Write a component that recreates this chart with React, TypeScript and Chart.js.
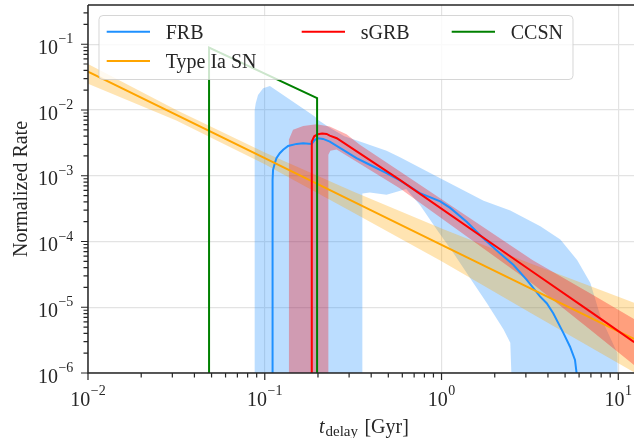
import React, { useEffect, useRef } from 'react';
import { Chart, registerables } from 'chart.js';

Chart.register(...registerables);

// ---------------- data ----------------
const BOTTOM = 1e-7; // "down to the axis" (below the y-axis minimum)
const X_MIN = 0.01;
const X_MAX = 12.27;
const Y_MIN = 1e-6;
const Y_MAX = 0.395;

// FRB median curve
const frbT = [0.1107, 0.1107, 0.1114, 0.114, 0.1164, 0.1216, 0.1271, 0.1355, 0.1514, 0.1648, 0.1841, 0.1919, 0.2004, 0.2138, 0.2333, 0.3304, 0.3926, 0.4887, 0.5812, 0.7551, 0.9829, 1.119, 1.387, 1.722, 2.138, 2.547, 3.027, 3.606, 3.936, 4.285, 4.887, 5.333, 5.689, 5.808, 5.83];
const frbRate = [BOTTOM, 8.7e-4, 1.23e-3, 1.55e-3, 1.85e-3, 2.2e-3, 2.48e-3, 2.84e-3, 3.05e-3, 3.13e-3, 3.05e-3, 3.52e-3, 3.72e-3, 3.63e-3, 3.31e-3, 1.85e-3, 1.47e-3, 1.1e-3, 8.5e-4, 5.45e-4, 4.07e-4, 3.24e-4, 2.0e-4, 1.12e-4, 6.6e-5, 4.43e-5, 2.63e-5, 1.46e-5, 1.15e-5, 8.1e-6, 4.07e-6, 2.51e-6, 1.58e-6, 1.0e-6, BOTTOM];
// FRB band: upper edge (left to right) and lower edge (right to left)
const frbHiT = [0.0877, 0.0877, 0.0889, 0.0916, 0.0979, 0.1069, 0.1919, 0.1995, 0.2333, 0.2818, 0.3451, 0.4887, 0.5821, 0.9829, 1.73, 2.449, 3.622, 4.699, 5.848, 6.95, 7.943, 9.886, 10.05];
const frbHi = [BOTTOM, 0.01, 0.01268, 0.01694, 0.02143, 0.02323, 7.94e-3, 7.08e-3, 5.37e-3, 3.98e-3, 3.31e-3, 2.4e-3, 1.905e-3, 9.12e-4, 4.17e-4, 2.95e-4, 1.7e-4, 1.07e-4, 5.25e-5, 2.34e-5, 7.08e-6, 2.0e-6, BOTTOM];
const frbLoT = [2.559, 2.449, 2.244, 1.807, 1.514, 1.17, 0.9419, 0.7568, 0.631, 0.4887, 0.3926, 0.3565, 0.3565];
const frbLo = [BOTTOM, 2.88e-6, 4.57e-6, 1.15e-5, 2.34e-5, 6.6e-5, 1.51e-4, 3.55e-4, 6.31e-4, 5.13e-4, 5.56e-4, 5.37e-4, BOTTOM];

// Type Ia SN power law and band
const iaT = [0.01, 0.1, 1, 10, 12.3];
const iaRate = [0.0384, 1.85e-3, 8.9e-5, 4.3e-6, 3.3e-6];
const iaBandT = [0.01, 0.0316, 0.1, 0.316, 1, 3.16, 10, 12.3];
const iaHi = [0.0501, 0.01, 2.25e-3, 5.75e-4, 1.58e-4, 4.68e-5, 1.45e-5, 1.17e-5];
const iaLo = [0.0251, 6.92e-3, 1.5e-3, 2.75e-4, 5.0e-5, 8.3e-6, 1.41e-6, 1.02e-6];

// sGRB curve and band
const sgrbT = [0.1845, 0.1845, 0.1905, 0.1995, 0.2113, 0.2239, 0.2333, 0.2553, 0.5808, 3.304, 7.08, 12.3];
const sgrbRate = [BOTTOM, 3.31e-3, 3.98e-3, 4.27e-3, 4.37e-3, 4.32e-3, 4.08e-3, 3.72e-3, 8.67e-4, 3.41e-5, 8.3e-6, 2.95e-6];
const sgrbHiT = [0.137, 0.137, 0.1445, 0.165, 0.196, 0.233, 0.29, 0.345, 0.58, 3.3, 7.08, 12.3];
const sgrbHi = [BOTTOM, 3.55e-3, 4.99e-3, 5.73e-3, 6.08e-3, 5.6e-3, 4.27e-3, 2.95e-3, 1.175e-3, 5.13e-5, 1.58e-5, 6.6e-6];
const sgrbLoT = [12.3, 7.08, 3.3, 0.58, 0.255, 0.235, 0.229, 0.229];
const sgrbLo = [1.32e-6, 4.37e-6, 2.24e-5, 6.46e-4, 2.51e-3, 2.4e-3, 2.09e-3, BOTTOM];

// CCSN box-like curve
const ccsnT = [0.0484, 0.0484, 0.1977, 0.1977];
const ccsnRate = [BOTTOM, 0.0888, 0.0151, BOTTOM];

// ticks
const xTickExponents = [-2, -1, 0, 1];
const yTickExponents = [-6, -5, -4, -3, -2, -1];

const legendNames = ['FRB', 'Type Ia SN', 'sGRB', 'CCSN'];

// ---------------- styles ----------------
const C_FRB = '#1e90ff';
const C_IA = '#ffa500';
const C_SGRB = '#ff0000';
const C_CCSN = '#008000';
const INK = '#262626';
const GRID = '#e3e3e3';
const FONT = '"Liberation Serif", "Times New Roman", serif';
const LW = 2;

const pts = (t: number[], v: number[]) => t.map((x, i) => ({ x, y: v[i] }));
const polygon = (hiT: number[], hi: number[], loT: number[], lo: number[]) => [...pts(hiT, hi), ...pts(loT, lo)];

const isMajor = (v: number) => {
  const l = Math.log10(v);
  return Math.abs(l - Math.round(l)) < 1e-6;
};

const logTicks = (lo: number, hi: number) => {
  const out: number[] = [];
  for (let e = Math.floor(Math.log10(lo)); e <= Math.ceil(Math.log10(hi)); e++) {
    for (let m = 1; m <= 9; m++) {
      const v = m * Math.pow(10, e);
      if (v >= lo * 0.9999 && v <= hi * 1.0001) out.push(v);
    }
  }
  return out;
};

const supLabel = (exp: number) => (exp < 0 ? '\u2212' + Math.abs(exp) : String(exp));

const axesPlugin = {
  id: 'mplAxes',
  afterDraw(chart: any) {
    const { ctx, chartArea: a, scales } = chart;
    const xs = scales.x;
    const ys = scales.y;
    ctx.save();

    // spines
    ctx.strokeStyle = INK;
    ctx.lineWidth = 1.5;
    ctx.beginPath();
    ctx.moveTo(a.left, a.top);
    ctx.lineTo(a.right, a.top);
    ctx.moveTo(a.left, a.top);
    ctx.lineTo(a.left, a.bottom);
    ctx.lineTo(a.right, a.bottom);
    ctx.stroke();

    // tick marks
    ctx.lineWidth = 1.2;
    ctx.beginPath();
    for (const v of logTicks(X_MIN, X_MAX)) {
      const p = xs.getPixelForValue(v);
      const len = isMajor(v) ? 7 : 4.5;
      ctx.moveTo(p, a.bottom);
      ctx.lineTo(p, a.bottom + len);
    }
    for (const v of logTicks(Y_MIN, Y_MAX)) {
      const p = ys.getPixelForValue(v);
      const len = isMajor(v) ? 7 : 4.5;
      ctx.moveTo(a.left, p);
      ctx.lineTo(a.left - len, p);
    }
    ctx.stroke();

    // tick labels 10^n
    ctx.fillStyle = INK;
    ctx.textBaseline = 'alphabetic';
    ctx.textAlign = 'left';
    const baseFont = `20px ${FONT}`;
    const supFont = `14px ${FONT}`;
    const measure = (txt: string, f: string) => {
      ctx.font = f;
      return ctx.measureText(txt).width;
    };
    const drawPow = (exp: number, x: number, baseline: number) => {
      const s = supLabel(exp);
      ctx.font = baseFont;
      ctx.fillText('10', x, baseline);
      const w10 = measure('10', baseFont);
      ctx.font = supFont;
      ctx.fillText(s, x + w10 + 0.5, baseline - 10.5);
    };
    for (const e of xTickExponents) {
      const v = Math.pow(10, e);
      const p = xs.getPixelForValue(v);
      const w = measure('10', baseFont) + 0.5 + measure(supLabel(e), supFont);
      drawPow(e, p - w / 2, a.bottom + 32.7);
    }
    for (const e of yTickExponents) {
      const v = Math.pow(10, e);
      const p = ys.getPixelForValue(v);
      const w = measure('10', baseFont) + 0.5 + measure(supLabel(e), supFont);
      drawPow(e, a.left - 14.7 - w, p + 9.7);
    }

    // y title
    ctx.save();
    ctx.font = baseFont;
    ctx.translate(27, (a.top + a.bottom) / 2);
    ctx.rotate(-Math.PI / 2);
    ctx.textAlign = 'center';
    ctx.fillText('Normalized Rate', 0, 0);
    ctx.restore();

    // x title: t_delay [Gyr]
    const tFont = `italic 20px ${FONT}`;
    const subFont = `15px ${FONT}`;
    const wt = measure('t', tFont);
    const wd = measure('delay', subFont);
    const wg = measure('[Gyr]', baseFont);
    const gap1 = 0.8;
    const gap2 = 6.5;
    const total = wt + gap1 + wd + gap2 + wg;
    const cx = (a.left + a.right) / 2 + 3;
    let x0 = cx - total / 2;
    const tb = 432.5;
    ctx.textAlign = 'left';
    ctx.font = tFont;
    ctx.fillText('t', x0, tb);
    x0 += wt + gap1;
    ctx.font = subFont;
    ctx.fillText('delay', x0, tb + 3);
    x0 += wd + gap2;
    ctx.font = baseFont;
    ctx.fillText('[Gyr]', x0, tb);

    // legend
    const lx = a.left + 11;
    const ly = a.top + 10.5;
    const lw = 474;
    const lh = 64;
    const r = 4;
    ctx.beginPath();
    ctx.moveTo(lx + r, ly);
    ctx.lineTo(lx + lw - r, ly);
    ctx.arcTo(lx + lw, ly, lx + lw, ly + r, r);
    ctx.lineTo(lx + lw, ly + lh - r);
    ctx.arcTo(lx + lw, ly + lh, lx + lw - r, ly + lh, r);
    ctx.lineTo(lx + r, ly + lh);
    ctx.arcTo(lx, ly + lh, lx, ly + lh - r, r);
    ctx.lineTo(lx, ly + r);
    ctx.arcTo(lx, ly, lx + r, ly, r);
    ctx.closePath();
    ctx.fillStyle = 'rgba(255,255,255,0.8)';
    ctx.fill();
    ctx.strokeStyle = 'rgba(204,204,204,0.8)';
    ctx.lineWidth = 1;
    ctx.stroke();

    const colors = [C_FRB, C_IA, C_SGRB, C_CCSN];
    // matplotlib ncol=3, column-major filling
    const colX = [lx + 7.7, lx + 202.7, lx + 352.7];
    const rowY = [ly + 16.2, ly + 45.5];
    const slots = [
      [0, 0],
      [0, 1],
      [1, 0],
      [2, 0],
    ];
    legendNames.forEach((name, i) => {
      const [c, rr] = slots[i];
      const hx = colX[c];
      const hy = rowY[rr];
      ctx.strokeStyle = colors[i];
      ctx.lineWidth = LW;
      ctx.beginPath();
      ctx.moveTo(hx, hy);
      ctx.lineTo(hx + 43.3, hy);
      ctx.stroke();
      ctx.fillStyle = INK;
      ctx.font = baseFont;
      ctx.fillText(name, hx + 59, hy + 7);
    });

    ctx.restore();
  },
};

export default function App() {
  const canvasRef = useRef<HTMLCanvasElement | null>(null);

  useEffect(() => {
    if (!canvasRef.current) return;
    const lineDs = (label: string, data: any[], color: string, order: number) => ({
      label,
      data,
      borderColor: color,
      backgroundColor: color,
      borderWidth: LW,
      pointRadius: 0,
      tension: 0,
      fill: false,
      clip: 0,
      order,
    });
    const bandDs = (label: string, data: any[], color: string, order: number) => ({
      label,
      data,
      borderColor: 'rgba(0,0,0,0)',
      backgroundColor: color,
      borderWidth: 0,
      pointRadius: 0,
      tension: 0,
      fill: 'shape',
      clip: 0,
      order,
    });

    const chart = new Chart(canvasRef.current, {
      type: 'line',
      data: {
        datasets: [
          bandDs('FRB band', polygon(frbHiT, frbHi, frbLoT, frbLo), 'rgba(30,144,255,0.3)', 7),
          bandDs('Type Ia SN band', polygon(iaBandT, iaHi, [...iaBandT].reverse(), [...iaLo].reverse()), 'rgba(255,165,0,0.3)', 6),
          bandDs('sGRB band', polygon(sgrbHiT, sgrbHi, sgrbLoT, sgrbLo), 'rgba(255,0,0,0.3)', 5),
          lineDs('FRB', pts(frbT, frbRate), C_FRB, 4),
          lineDs('Type Ia SN', pts(iaT, iaRate), C_IA, 3),
          lineDs('sGRB', pts(sgrbT, sgrbRate), C_SGRB, 2),
          lineDs('CCSN', pts(ccsnT, ccsnRate), C_CCSN, 1),
        ] as any,
      },
      options: {
        responsive: false,
        animation: false,
        devicePixelRatio: 1,
        events: [],
        layout: { padding: { top: 5, right: 0, left: 0, bottom: 0 } },
        plugins: {
          legend: { display: false },
          tooltip: { enabled: false },
        },
        scales: {
          x: {
            type: 'logarithmic',
            min: X_MIN,
            max: X_MAX,
            afterBuildTicks: (s: any) => {
              s.ticks = logTicks(X_MIN, X_MAX).map((value) => ({ value }));
            },
            afterFit: (s: any) => {
              s.height = 65;
            },
            ticks: { display: false },
            border: { display: false },
            grid: {
              drawTicks: false,
              lineWidth: 1.2,
              color: (c: any) => (c.tick && isMajor(c.tick.value) ? GRID : 'rgba(0,0,0,0)'),
            },
          },
          y: {
            type: 'logarithmic',
            min: Y_MIN,
            max: Y_MAX,
            afterBuildTicks: (s: any) => {
              s.ticks = logTicks(Y_MIN, Y_MAX).map((value) => ({ value }));
            },
            afterFit: (s: any) => {
              s.width = 88;
            },
            ticks: { display: false },
            border: { display: false },
            grid: {
              drawTicks: false,
              lineWidth: 1.2,
              color: (c: any) => (c.tick && isMajor(c.tick.value) ? GRID : 'rgba(0,0,0,0)'),
            },
          },
        },
      } as any,
      plugins: [axesPlugin],
    });
    return () => chart.destroy();
  }, []);

  return (
    <div style={{ position: 'absolute', left: 0, top: 0, width: 634, height: 438, background: '#fff' }}>
      <canvas ref={canvasRef} width={634} height={438} style={{ display: 'block' }} />
    </div>
  );
}
